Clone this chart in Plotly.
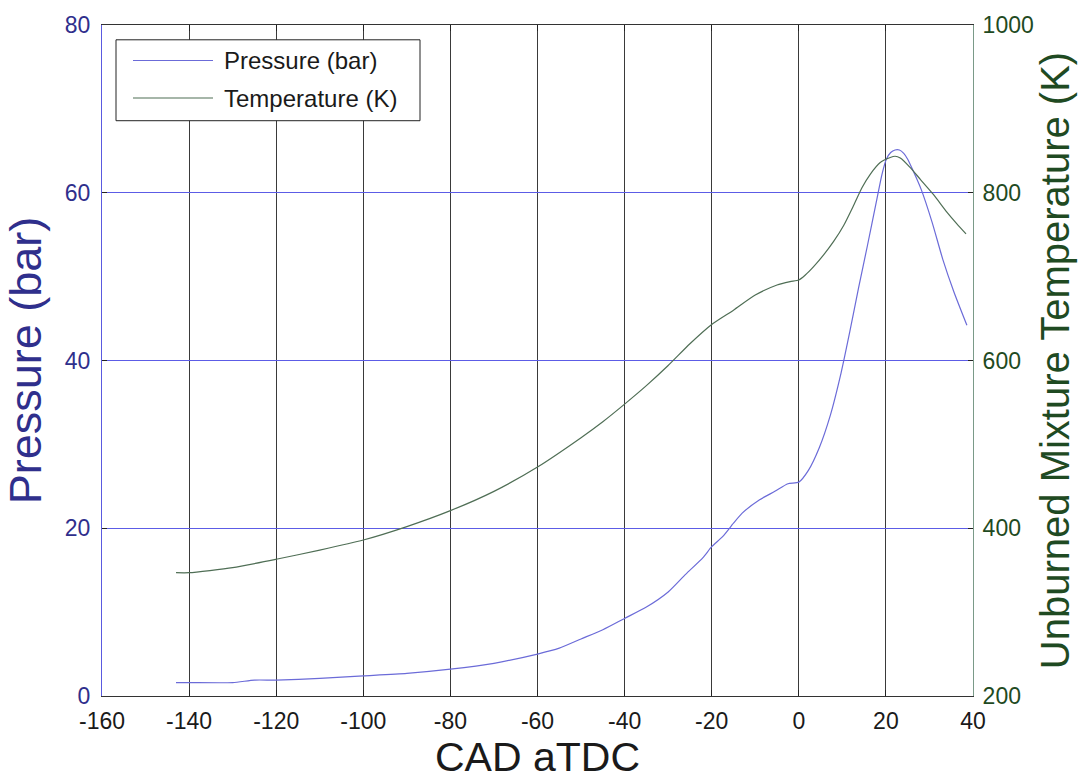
import plotly.graph_objects as go

cad_p = [-143, -140, -130, -125, -120, -110, -100, -90, -80, -70, -60, -55, -50, -45, -40,
         -35, -30, -26, -22, -20, -17.5, -15, -13, -9, -5.5, -2.5, 0, 2.2, 4.7, 7.2, 9.7,
         11.7, 13.7, 15.8, 17.8, 19.1, 20.1, 21.1, 22.1, 23.1, 24.1, 25.0, 26.1, 28.1,
         30.6, 33.1, 35.6, 38.6]
pressure = [1.6, 1.6, 1.6, 1.9, 1.9, 2.1, 2.4, 2.7, 3.2, 3.9, 5.0, 5.7, 6.8, 7.9, 9.25,
            10.6, 12.4, 14.5, 16.5, 17.8, 19.0, 20.6, 21.8, 23.4, 24.4, 25.3, 25.5, 26.9, 29.6, 33.4, 38.5,
            43.4, 48.6, 53.8, 58.9, 62.2, 64.0, 64.8, 65.1, 65.1, 64.7, 64.0, 62.8, 60.4,
            56.5, 52.0, 48.2, 44.2]

cad_t = [-143, -140, -130, -120, -110, -100, -90, -80, -70, -60, -50, -45, -40, -35, -30,
         -25, -20, -15, -10, -5, -2, 0, 1.5, 3.4, 5.7, 8, 10.3, 12.6, 14.5, 16.4, 18.7,
         21, 22.1, 23.3, 25.6, 27.9, 30.9, 34, 36.3, 38.4]
temperature = [347, 347, 353, 363, 374, 386, 402, 421, 444, 473, 508, 527, 548, 570, 594,
               620, 643, 660, 678, 690, 694, 696, 702, 712, 726, 742, 761, 785, 806, 822, 836,
               842, 843.5, 841.5, 830, 816, 798, 777, 763, 751]

x_ticks = [-160, -140, -120, -100, -80, -60, -40, -20, 0, 20, 40]
x_tick_text = ["-160", "-140", "-120", "-100", "-80", "-60", "-40", "-20", "0", "20", "40"]
p_ticks = [0, 20, 40, 60, 80]
t_ticks = [200, 400, 600, 800, 1000]
series_names = ["Pressure (bar)", "Temperature (K)"]

P_COLOR = "#6b6bd8"
T_COLOR = "#4f6e55"
P_TEXT = "#2f2f8c"
T_TEXT = "#1f4a22"
GRID_BLUE = "#5c5ce6"
FONT = "Liberation Sans, Arial, sans-serif"

fig = go.Figure()
fig.add_trace(go.Scatter(x=cad_p, y=pressure, mode="lines", name=series_names[0],
                         line=dict(color=P_COLOR, width=1.2, shape="spline", smoothing=0.6), yaxis="y"))
fig.add_trace(go.Scatter(x=cad_t, y=temperature, mode="lines", name=series_names[1],
                         line=dict(color=T_COLOR, width=1.2, shape="spline", smoothing=0.6), yaxis="y2"))

fig.update_layout(
    width=1086, height=782,
    margin=dict(l=102, r=113, t=17, b=85),
    paper_bgcolor="white", plot_bgcolor="white",
    showlegend=False,
    font=dict(family=FONT, size=23, color="#1a1a1a"),
    xaxis=dict(
        range=[-160, 40], tickmode="array", tickvals=x_ticks, ticktext=x_tick_text,
        ticks="inside", ticklen=6, tickcolor="#222", tickwidth=1,
        showline=True, linecolor="#333", linewidth=1, mirror="ticks",
        showgrid=True, gridcolor="#3a3a3a", gridwidth=1, zeroline=False,
        tickfont=dict(family=FONT, size=23, color="#1a1a1a"),
        ticklabelstandoff=4,
        title=dict(text="CAD aTDC", font=dict(family=FONT, size=41, color="#1a1a1a"), standoff=8),
    ),
    yaxis=dict(
        range=[0, 80], tickmode="array", tickvals=p_ticks,
        ticks="inside", ticklen=5, tickcolor="#222",
        showline=True, linecolor="#5a5ae0", linewidth=1,
        showgrid=True, gridcolor=GRID_BLUE, gridwidth=1, zeroline=False,
        tickfont=dict(family=FONT, size=23, color=P_TEXT),
        ticklabelstandoff=6,
        title=dict(text="Pressure (bar)", font=dict(family=FONT, size=45, color=P_TEXT), standoff=14),
    ),
    yaxis2=dict(
        overlaying="y", side="right",
        range=[200, 1000], tickmode="array", tickvals=t_ticks,
        ticks="inside", ticklen=5, tickcolor="#222",
        showline=True, linecolor="#7a9a88", linewidth=1,
        showgrid=False, zeroline=False,
        tickfont=dict(family=FONT, size=23, color=T_TEXT),
        ticklabelstandoff=4,
        title=dict(text="Unburned Mixture Temperature (K)", font=dict(family=FONT, size=40, color=T_TEXT), standoff=8),
    ),
)

def px_x(px):
    return (px - 102) / 871.0

def px_y(py):
    return (697 - py) / 680.0

fig.add_shape(type="rect", xref="paper", yref="paper",
              x0=px_x(116), x1=px_x(420), y0=px_y(114), y1=px_y(32),
              line=dict(color="#222", width=1), fillcolor="white", layer="above")
for i, (name, col) in enumerate(zip(series_names, [P_COLOR, T_COLOR])):
    yy = [53, 91][i]
    fig.add_shape(type="line", xref="paper", yref="paper",
                  x0=px_x(133), x1=px_x(213), y0=px_y(yy), y1=px_y(yy),
                  line=dict(color=col, width=1.2), layer="above")
    fig.add_annotation(xref="paper", yref="paper", x=px_x(222), y=px_y(yy),
                       text=name, showarrow=False, xanchor="left", yanchor="middle",
                       font=dict(family=FONT, size=24, color="#1a1a1a"))

fig.write_html("out.html")
